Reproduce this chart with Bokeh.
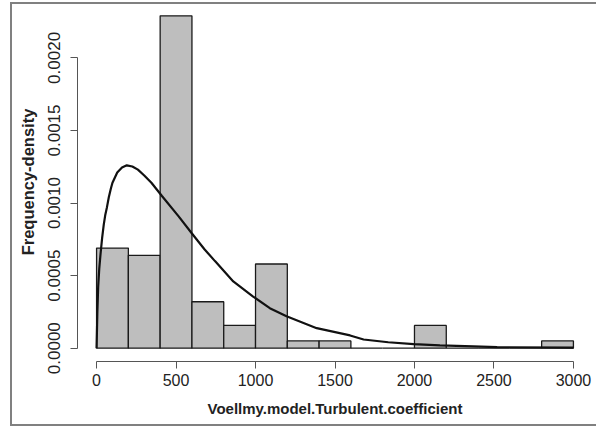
from bokeh.plotting import figure
from bokeh.models import Range1d, FixedTicker, PrintfTickFormatter, ColumnDataSource
from bokeh.embed import file_html
from bokeh.resources import INLINE

# Histogram bins (value ranges) and frequency densities
bin_left = [0, 200, 400, 600, 800, 1000, 1200, 1400, 1600, 1800, 2000, 2200, 2400, 2600, 2800]
bin_right = [200, 400, 600, 800, 1000, 1200, 1400, 1600, 1800, 2000, 2200, 2400, 2600, 2800, 3000]
density = [0.00069, 0.00064, 0.00229, 0.00032, 0.000157, 0.00058, 0.00005, 0.00005,
           0.0, 0.0, 0.000157, 0.0, 0.0, 0.0, 0.00005]

# Fitted density curve
curve_x = [0, 5, 10, 17, 25, 35, 45, 55, 65, 77, 90, 100, 130, 160, 190, 225, 260, 300,
           345, 410, 515, 600, 680, 745, 860, 985, 1090, 1195, 1385, 1595, 1680, 1835,
           1995, 2160, 2370, 2520, 3000]
curve_y = [0.0, 0.00025, 0.00042, 0.00055, 0.00065, 0.00076, 0.00085, 0.00092, 0.00097,
           0.00104, 0.0011, 0.00114, 0.00121, 0.001245, 0.00126, 0.001252, 0.00123,
           0.00119, 0.00114, 0.00105, 0.00091, 0.00079, 0.00068, 0.0006, 0.00046,
           0.000356, 0.000276, 0.00022, 0.000138, 0.000088, 0.00006, 0.000041,
           0.000028, 0.000019, 0.000012, 0.000007, 0.000004]

x_ticks = [0, 500, 1000, 1500, 2000, 2500, 3000]
y_ticks = [0.0, 0.0005, 0.0010, 0.0015, 0.0020]

FONT = "Liberation Sans"

# Outer grey frame of the picture (decoration), drawn as CSS background lines
frame_styles = {
    "background-color": "white",
    "background-image": ("linear-gradient(#808080,#808080),"
                         "linear-gradient(#808080,#808080),"
                         "linear-gradient(#808080,#808080)"),
    "background-size": "2px 424px, 586px 2px, 586px 2px",
    "background-position": "10px 2px, 10px 2px, 10px 424px",
    "background-repeat": "no-repeat",
}

p = figure(width=596, height=427, output_backend="svg", toolbar_location=None,
           x_range=Range1d(-120, 3120), y_range=Range1d(-0.0000916, 0.0023816),
           min_border_left=77, min_border_right=4, min_border_top=2, min_border_bottom=66,
           styles=frame_styles)
p.outline_line_color = None
p.xgrid.visible = False
p.ygrid.visible = False
p.background_fill_color = None
p.border_fill_color = None

src = ColumnDataSource(dict(left=bin_left, right=bin_right, top=density,
                            bottom=[0.0] * len(density)))
p.quad(left="left", right="right", top="top", bottom="bottom", source=src,
       fill_color="#bebebe", line_color="#1a1a1a", line_width=1.3)

p.line(curve_x, curve_y, line_color="#111111", line_width=2.2)

for ax in (p.xaxis[0], p.yaxis[0]):
    ax.axis_line_color = "#555555"
    ax.major_tick_line_color = "#555555"
    ax.minor_tick_line_color = None
    ax.major_tick_out = 7
    ax.major_tick_in = 0
    ax.major_label_text_font = FONT
    ax.major_label_text_color = "#222222"
    ax.axis_label_text_font = FONT
    ax.axis_label_text_font_style = "bold"
    ax.axis_label_text_color = "#222222"

p.xaxis.ticker = FixedTicker(ticks=x_ticks)
p.xaxis.bounds = (0, 3000)
p.xaxis.major_label_text_font_size = "16px"
p.xaxis.major_label_standoff = 5
p.xaxis.axis_label = "Voellmy.model.Turbulent.coefficient"
p.xaxis.axis_label_text_font_size = "15px"
p.xaxis.axis_label_standoff = 11

p.yaxis.ticker = FixedTicker(ticks=y_ticks)
p.yaxis.bounds = (0, 0.002)
p.yaxis.formatter = PrintfTickFormatter(format="%.4f")
p.yaxis.major_label_orientation = "vertical"
p.yaxis.major_label_text_font_size = "17px"
p.yaxis.major_label_standoff = 10
p.yaxis.axis_label = "Frequency-density"
p.yaxis.axis_label_text_font_size = "16.5px"
p.yaxis.axis_label_standoff = 9

open("out.html", "w").write(file_html(p, INLINE))
